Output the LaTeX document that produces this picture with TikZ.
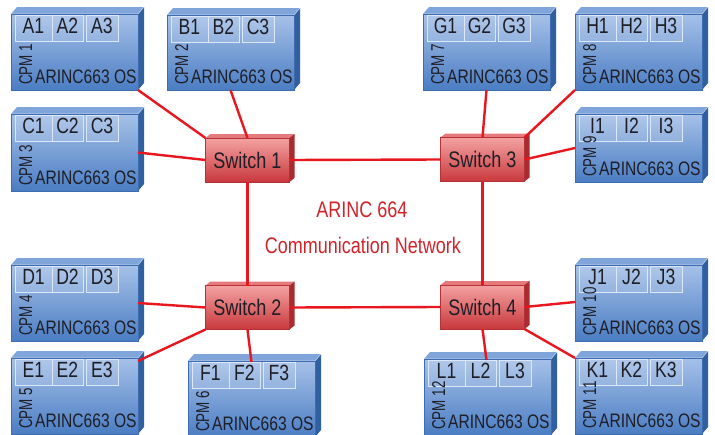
\documentclass[tikz,border=0pt]{standalone}
\usepackage{fontspec}
\setmainfont{Liberation Sans}[FakeStretch=0.8]
\newfontfamily\cpmnarrow{Liberation Sans}[FakeStretch=0.72]
\usetikzlibrary{calc}
\definecolor{cpmlight}{HTML}{A6C1E8}
\definecolor{cpmdark}{HTML}{4B7DC3}
\definecolor{cpmtopc}{HTML}{7FA5DA}
\definecolor{cpmsidec}{HTML}{30609F}
\definecolor{cpmedge}{HTML}{3D6CB0}
\definecolor{subedge}{HTML}{DCE8F8}
\definecolor{swlight}{HTML}{F4A2A2}
\definecolor{swdark}{HTML}{C8383C}
\definecolor{swtopc}{HTML}{E6797B}
\definecolor{swsidec}{HTML}{A82B2F}
\definecolor{swedge}{HTML}{B43236}
\definecolor{linkred}{HTML}{E8161E}
\definecolor{txtred}{HTML}{D2232A}
\definecolor{txtdark}{HTML}{1E1E26}
\tikzset{
  cpmfront/.style={draw=cpmedge, line width=0.6pt, top color=cpmlight, bottom color=cpmdark,
    minimum width=127pt, anchor=north west, inner sep=0pt, outer sep=0pt},
  subbox/.style={draw=subedge, line width=0.9pt, fill=white, fill opacity=0.12, text opacity=1,
    anchor=north west, minimum height=26pt, inner sep=0pt, outer sep=0pt,
    text height=12.5pt, text depth=2pt, font=\fontsize{22}{22}\selectfont, text=txtdark},
  cpmname/.style={rotate=90, anchor=base west, inner sep=0pt, font=\cpmnarrow\fontsize{18.6}{18.6}\selectfont, text=txtdark},
  osname/.style={anchor=base west, inner sep=0pt, font=\fontsize{19.5}{19.5}\selectfont, text=txtdark},
  swfront/.style={draw=swedge, line width=0.6pt, top color=swlight, bottom color=swdark,
    minimum width=84pt, minimum height=44pt, inner sep=0pt, outer sep=0pt,
    font=\fontsize{22.5}{22.5}\selectfont, text=txtdark},
  link/.style={draw=linkred, line width=2.4pt},
  nettext/.style={text=txtred, font=\fontsize{22.5}{22.5}\selectfont, inner sep=0pt}
}
% name, x, y, height, number, label1, label2, label3
\newcommand\cpmunit[8]{%
  \fill[cpmtopc] (#2,#3) -- ++(6,-7) -- ++(127,0) -- ++(-6,7) -- cycle;
  \fill[cpmsidec] (#2+127,#3) -- ++(6,-7) -- ++(0,#4) -- ++(-6,7) -- cycle;
  \draw[white, opacity=0.6, line width=0.6pt] (#2,#3) -- ++(127,0) -- ++(6,-7);
  \node[cpmfront, minimum height=#4] (#1) at (#2,#3) {};
  \node[subbox, minimum width=37pt] (#1a) at (#2+4,#3+1) {#6};
  \node[subbox, minimum width=31pt] (#1b) at (#2+41,#3+1) {#7};
  \node[subbox, minimum width=32pt] (#1c) at (#2+75,#3+1) {#8};
  \node[cpmname] (#1n) at (#2+21,#3+#4-5) {CPM #5};
  \node[osname] (#1o) at (#2+24,#3+#4-7) {ARINC663 OS};
}
% name, cx, cy, label
\newcommand\switchunit[4]{%
  \fill[swtopc] (#2-42,#3-22) -- ++(5,-4) -- ++(84,0) -- ++(-5,4) -- cycle;
  \fill[swsidec] (#2+42,#3-22) -- ++(5,-4) -- ++(0,44) -- ++(-5,4) -- cycle;
  \node[swfront] (#1) at (#2,#3) {#4};
}
\begin{document}
\begin{tikzpicture}[x=1pt, y=-1pt]
\useasboundingbox (0,0) rectangle (715,434);
\clip (0,0) rectangle (715,434);
\fill[white] (0,0) rectangle (715,434);

\cpmunit{cpma}{11}{14}{76}{1}{A1}{A2}{A3}
\cpmunit{cpmb}{167}{15}{75}{2}{B1}{B2}{C3}
\cpmunit{cpmc}{11}{114}{77}{3}{C1}{C2}{C3}
\cpmunit{cpmd}{11}{265}{76}{4}{D1}{D2}{D3}
\cpmunit{cpme}{11}{358}{76}{5}{E1}{E2}{E3}
\cpmunit{cpmf}{188}{361}{76}{6}{F1}{F2}{F3}
\cpmunit{cpmg}{423}{14}{76}{7}{G1}{G2}{G3}
\cpmunit{cpmh}{575}{14}{76}{8}{H1}{H2}{H3}
\cpmunit{cpmi}{575}{114}{68}{9}{I1}{I2}{I3}
\cpmunit{cpmj}{575}{265}{76}{10}{J1}{J2}{J3}
\cpmunit{cpmk}{575}{358}{76}{11}{K1}{K2}{K3}
\cpmunit{cpml}{424}{359}{76}{12}{L1}{L2}{L3}

\switchunit{swa}{247.5}{160}{Switch 1}
\switchunit{swb}{247.5}{307.5}{Switch 2}
\switchunit{swc}{482.5}{159.5}{Switch 3}
\switchunit{swd}{482.5}{307}{Switch 4}

\node[nettext] (net1) at (362,210) {ARINC 664};
\node[nettext] (net2) at (363,245) {Communication Network};

\draw[link] (cpma.south east) -- (swa.north west);
\draw[link] (cpmb.south) -- (swa.north);
\draw[link] (cpmc.east) -- (swa.west);
\draw[link] (swa.east) -- (swc.west);
\draw[link] (swa.south) -- (swb.north);
\draw[link] (cpmg.south) -- (swc.north);
\draw[link] (cpmh.south west) -- (swc.north east);
\draw[link] (cpmi.west) -- (swc.east);
\draw[link] (swc.south) -- (swd.north);
\draw[link] (cpmd.east) -- (swb.west);
\draw[link] ($(cpme.north east)+(0,3)$) -- (swb.south west);
\draw[link] ($(cpmfb.north)+(7,0)$) -- (swb.south);
\draw[link] (swb.east) -- (swd.west);
\draw[link] (swd.east) -- ($(cpmj.west)+(0,-1)$);
\draw[link] (swd.south east) -- (cpmk.north west);
\draw[link] (swd.south) -- ($(cpmlb.north)+(6,0)$);
\end{tikzpicture}
\end{document}
